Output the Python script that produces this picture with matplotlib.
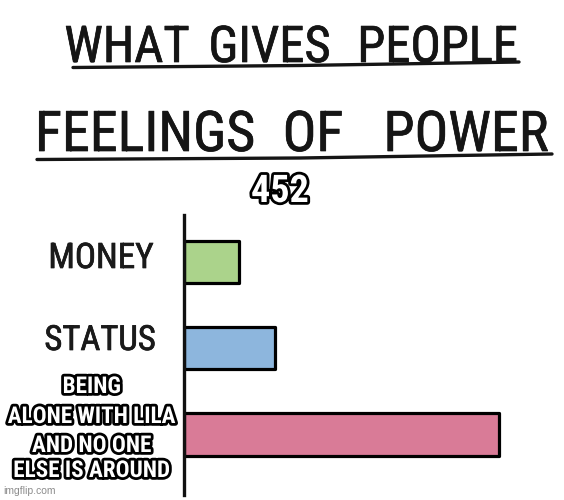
import matplotlib
matplotlib.use("Agg")
import matplotlib.pyplot as plt
from matplotlib import font_manager as fm
from matplotlib.lines import Line2D
import matplotlib.patheffects as pe

# ---------------- data ----------------
categories = ["MONEY", "STATUS", "BEING\nALONE WITH LILA\nAND NO ONE\nELSE IS AROUND"]
values = [55, 91, 315]
bar_colors = ["#abd38b", "#8db6dd", "#d97b97"]
title_line1 = ["WHAT", "GIVES", "PEOPLE"]
title_line2 = ["FEELINGS", "OF", "POWER"]
caption = "452"
watermark = "imgflip.com"

# ---------------- fonts ----------------
names = {f.name for f in fm.fontManager.ttflist}


def find_condensed():
    for p in ["Liberation Sans Narrow", "Roboto Condensed", "Open Sans Condensed",
              "Noto Sans Condensed", "DejaVu Sans Condensed"]:
        if p in names:
            return {"family": [p, "DejaVu Sans"]}
    for f in fm.fontManager.ttflist:
        st = f.stretch
        if isinstance(st, str) and "condensed" in st and f.name in (
                "DejaVu Sans", "Noto Sans", "Roboto", "Open Sans", "Lato",
                "Inter", "Liberation Sans"):
            return {"family": [f.name, "DejaVu Sans"], "fontstretch": st}
    fam = "Liberation Sans" if "Liberation Sans" in names else "DejaVu Sans"
    return {"family": [fam, "DejaVu Sans"]}


HAND = find_condensed()
IMPACT = dict(HAND, fontweight="bold")

W, H = 564, 500
fig = plt.figure(figsize=(W / 100, H / 100), dpi=100)
fig.patch.set_facecolor("white")
renderer = fig.canvas.get_renderer()


def fx(px):
    return px / W


def fy(py):
    return 1 - py / H


def fit_size(text, target_w, **kw):
    t = fig.text(0, 0, text, fontsize=20, **kw)
    w = t.get_window_extent(renderer).width
    t.remove()
    return 20 * target_w / w


INK = "#151515"
ink_fx = [pe.withStroke(linewidth=0.5, foreground=INK)]

# ---------------- title ----------------
line1_span = [(74, 180), (213, 326), (361, 514)]
line2_span = [(41, 249), (285, 341), (395, 537)]
for words, spans, base in [(title_line1, line1_span, 62), (title_line2, line2_span, 151)]:
    sizes = [fit_size(w, b - a, **HAND) for w, (a, b) in zip(words, spans)]
    fs = 1.1 * sum(sizes) / len(sizes)
    for w, (a, b) in zip(words, spans):
        fig.text(fx((a + b) / 2), fy(base), w, fontsize=fs, color=INK,
                 ha="center", va="baseline", path_effects=ink_fx, **HAND)

fig.add_artist(Line2D([fx(73), fx(300), fx(519)], [fy(67.5), fy(65.5), fy(62)],
                      transform=fig.transFigure, color=INK, lw=2.4,
                      solid_capstyle="round"))
fig.add_artist(Line2D([fx(37), fx(300), fx(552)], [fy(159.5), fy(158), fy(154)],
                      transform=fig.transFigure, color=INK, lw=2.4,
                      solid_capstyle="round"))

# ---------------- caption ----------------
outline = [pe.withStroke(linewidth=4, foreground="black")]
fs_cap = fit_size(caption, 58, **IMPACT)
fig.text(fx(280), fy(202), caption, fontsize=fs_cap, color="white",
         ha="center", va="baseline", path_effects=outline, **IMPACT)

# ---------------- bar chart ----------------
ax_left, ax_top, ax_bottom, ax_right = 184, 215, 495, 564
ax = fig.add_axes([fx(ax_left), fy(ax_bottom), (ax_right - ax_left) / W,
                   (ax_bottom - ax_top) / H])
ax.set_facecolor("none")
ypos = list(range(len(categories)))
ax.barh(ypos, values, height=0.49, color=bar_colors, edgecolor="black",
        linewidth=2.3, joinstyle="round", zorder=2)
ax.set_xlim(0, ax_right - ax_left)
ax.set_ylim(2.70, -0.545)
for s in ["top", "right", "bottom"]:
    ax.spines[s].set_visible(False)
ax.spines["left"].set_linewidth(2.4)
ax.spines["left"].set_color("#111111")
ax.set_xticks([])
ax.set_yticks([])

# ---------------- category labels ----------------
# hand-lettered labels (center x, baseline y, width) in pixels
hand_layout = [(101, 268, 100), (100, 350, 106)]
for cat, (cx, base, wpx) in zip(categories[:2], hand_layout):
    fs = 1.05 * fit_size(cat, wpx, **HAND)
    fig.text(fx(cx), fy(base), cat, fontsize=fs, color="#1a1a1a",
             ha="center", va="baseline", path_effects=ink_fx, **HAND)

# meme-style label, one text per line
meme_lines = categories[2].split("\n")
meme_base = [393, 423, 452, 477]
widest = max(meme_lines, key=len)
fs_meme = fit_size(widest, 168, **IMPACT)
for line, base in zip(meme_lines, meme_base):
    fig.text(fx(92), fy(base), line, fontsize=fs_meme, color="white",
             ha="center", va="baseline",
             path_effects=[pe.withStroke(linewidth=4, foreground="black")],
             **IMPACT)

# ---------------- watermark ----------------
fig.text(fx(3), fy(494), watermark, family=["Liberation Sans", "DejaVu Sans"],
         fontsize=7.5, color="#8c8c8c", ha="left", va="baseline")

fig.savefig("out.png", dpi=100, facecolor="white")
